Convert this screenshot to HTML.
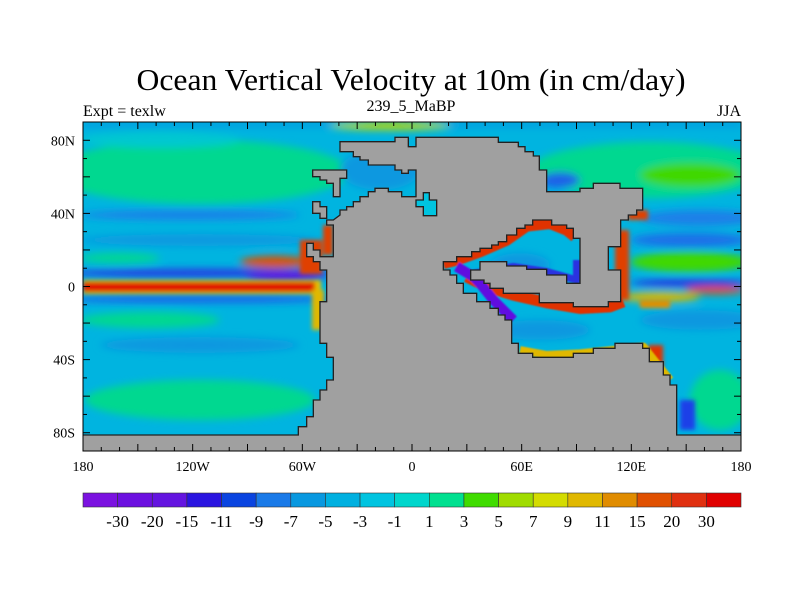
<!DOCTYPE html>
<html><head><meta charset="utf-8"><style>
body{margin:0;background:#fff;width:800px;height:600px;overflow:hidden}
text{font-family:"Liberation Serif",serif;fill:#000}
</style></head><body>
<svg width="800" height="600" viewBox="0 0 800 600">
<defs>
<clipPath id="mc"><rect x="83" y="122" width="658" height="329"/></clipPath>
<filter id="b4" x="-20%" y="-50%" width="140%" height="200%"><feGaussianBlur stdDeviation="4"/></filter>
<filter id="b2" x="-20%" y="-50%" width="140%" height="200%"><feGaussianBlur stdDeviation="2"/></filter>
</defs>
<text x="411" y="90" font-size="31" text-anchor="middle" textLength="549" lengthAdjust="spacingAndGlyphs">Ocean Vertical Velocity at 10m (in cm/day)</text>
<text x="83" y="116" font-size="16">Expt = texlw</text>
<text x="411" y="111" font-size="16" text-anchor="middle">239_5_MaBP</text>
<text x="741" y="116" font-size="16" text-anchor="end">JJA</text>

<g clip-path="url(#mc)">
<rect x="83" y="122" width="658" height="329" fill="#00b4e0"/>
<g filter="url(#b4)">
<rect x="83" y="122" width="658" height="5" fill="#0898e0"/>
<ellipse cx="390" cy="126" rx="60" ry="4" fill="#c0d800"/>
<ellipse cx="200" cy="172" rx="150" ry="32" fill="#00d890"/>
<ellipse cx="160" cy="140" rx="80" ry="8" fill="#00c8d0"/>
<ellipse cx="190" cy="215" rx="110" ry="5" fill="#1a80e8"/>
<ellipse cx="200" cy="240" rx="120" ry="6" fill="#0898e0"/>
<ellipse cx="120" cy="258" rx="40" ry="5" fill="#00d890"/>
<ellipse cx="200" cy="273" rx="140" ry="4" fill="#2a30e0"/>
<ellipse cx="285" cy="276" rx="40" ry="5" fill="#6010e0"/>
<ellipse cx="275" cy="262" rx="35" ry="6" fill="#e05000"/>
<ellipse cx="200" cy="299" rx="140" ry="4" fill="#1a60e8"/>
<ellipse cx="150" cy="320" rx="70" ry="8" fill="#00d890"/>
<ellipse cx="200" cy="400" rx="115" ry="20" fill="#00d890"/>
<ellipse cx="200" cy="345" rx="100" ry="8" fill="#0898e0"/>
<ellipse cx="650" cy="170" rx="120" ry="28" fill="#00d890"/>
<ellipse cx="690" cy="175" rx="50" ry="12" fill="#40d800"/>
<ellipse cx="560" cy="180" rx="20" ry="8" fill="#1a60e8"/>
<ellipse cx="700" cy="218" rx="60" ry="8" fill="#1a80e8"/>
<ellipse cx="690" cy="240" rx="60" ry="7" fill="#1a70e8"/>
<ellipse cx="690" cy="262" rx="60" ry="10" fill="#40d800"/>
<ellipse cx="690" cy="283" rx="60" ry="4" fill="#2a30e0"/>
<ellipse cx="715" cy="290" rx="30" ry="4" fill="#e05000"/>
<ellipse cx="660" cy="297" rx="40" ry="5" fill="#e0b800"/>
<ellipse cx="700" cy="320" rx="60" ry="10" fill="#0898e0"/>
<ellipse cx="720" cy="400" rx="30" ry="30" fill="#00d890"/>
<ellipse cx="380" cy="170" rx="40" ry="20" fill="#0898e0"/>
<ellipse cx="520" cy="265" rx="30" ry="12" fill="#0898e0"/>
<ellipse cx="540" cy="330" rx="50" ry="10" fill="#0898e0"/>
</g>
<g filter="url(#b2)">
<rect x="83" y="280" width="238" height="14" fill="#e8c000"/>
<rect x="83" y="282" width="232" height="10" fill="#e01800"/>
<rect x="300" y="240" width="22" height="34" fill="#e04000"/>
<rect x="323" y="225" width="10" height="30" fill="#e04000"/>
<rect x="312" y="290" width="12" height="40" fill="#e0b800"/>
<rect x="615" y="230" width="14" height="70" fill="#e04000"/>
<rect x="628" y="210" width="20" height="10" fill="#e04000"/>
<rect x="640" y="300" width="30" height="8" fill="#e09000"/>
<rect x="648" y="345" width="15" height="25" fill="#e03000"/>
<rect x="680" y="400" width="15" height="30" fill="#1a40e8"/>
</g>
<g transform="translate(280,120) scale(0.33333)" fill="none" stroke-linejoin="round" filter="url(#b2)">
<polyline points="490,430 530,420 600,395 680,360 740,318 810,310 860,330 885,350" stroke="#e03000" stroke-width="34"/>
<polyline points="560,470 620,500 700,525 800,548 900,565 990,560 1030,545" stroke="#e03000" stroke-width="34"/>
<polyline points="530,440 580,470 600,490 640,540 700,600" stroke="#6010e0" stroke-width="30"/>
<polyline points="580,460 700,440 800,455 890,480 890,420" stroke="#2a30e0" stroke-width="22"/>
<polyline points="720,690 800,705 900,700 1000,690 1090,680 1130,730 1170,780" stroke="#e0b800" stroke-width="24"/>
</g>
<g transform="translate(280,120) scale(0.33333)" stroke="#222" stroke-width="4" fill="#a0a0a0" stroke-linejoin="miter">
<polygon points="180,65 345,65 345,52 385,52 385,80 408,80 408,52 655,52 655,67 715,67 715,80 735,80 735,95 760,95 760,108 778,108 778,150 800,150 800,215 900,215 900,205 940,205 940,190 1020,190 1020,205 1088,205 1088,270 1070,270 1070,285 1045,285 1045,300 1022,300 1022,380 985,380 985,450 1022,450 1022,545 985,545 985,560 880,560 880,548 778,548 778,520 670,520 670,505 630,505 630,490 612,490 612,480 572,480 572,450 600,450 600,425 680,425 680,438 740,438 740,448 800,448 800,465 860,465 860,490 900,490 900,355 880,355 880,325 860,325 860,315 815,315 815,300 758,300 758,315 735,315 735,325 710,325 710,345 680,345 680,365 655,365 655,375 635,375 635,385 600,385 600,395 575,395 575,410 530,410 530,425 490,425 490,450 510,450 510,465 530,465 530,490 550,490 550,520 590,520 590,545 630,545 630,565 655,565 655,585 675,585 675,600 695,600 695,670 715,670 715,700 758,700 758,712 880,712 880,700 940,700 940,685 1005,685 1005,670 1088,670 1088,685 1108,685 1108,725 1150,725 1150,765 1170,765 1170,795 1190,795 1190,945 1400,945 1400,1000 -700,1000 -700,945 55,945 55,920 80,920 80,890 100,890 100,840 120,840 120,810 140,810 140,780 160,780 160,712 140,712 140,670 120,670 120,545 140,545 140,450 120,450 120,425 100,425 100,410 80,410 80,370 100,370 100,390 120,390 120,410 160,410 160,315 140,315 140,300 160,300 180,285 180,270 200,270 200,260 220,260 220,245 240,245 240,230 265,230 265,215 285,215 285,205 325,205 325,215 365,215 365,230 408,230 408,150 385,150 385,160 365,160 365,150 345,150 345,135 265,135 265,120 240,120 240,110 220,110 220,95 180,95"/>
<polygon points="98,150 200,150 200,175 180,175 180,230 160,230 160,190 140,190 140,180 120,180 120,170 98,170"/>
<polygon points="98,245 120,245 120,260 140,260 140,295 120,295 120,280 98,280"/>
<polygon points="430,218 448,218 448,240 470,240 470,287 430,287 430,260 408,260 408,240 430,240" fill="#00c4e0"/>
</g>
</g>
<rect x="83" y="122" width="658" height="329" fill="none" stroke="#000" stroke-width="1"/>
<g id="ticks"></g>
<g id="cbar"></g>
</svg>
<script>
const lonLabels=['180','120W','60W','0','60E','120E','180'];
const lonValues=[-180,-120,-60,0,60,120,180];
const latLabels=['80N','40N','0','40S','80S'];
const latValues=[80,40,0,-40,-80];
const levels=['-30','-20','-15','-11','-9','-7','-5','-3','-1','1','3','5','7','9','11','15','20','30'];
const colors=['#7b12e0','#6c10e0','#6414e0','#2a14e0','#0a44e0','#1a7ae8','#0898e0','#00b0e0','#00c4e0','#00d6cc','#00e090','#40dc00','#a0dc00','#d4dc00','#e0b800','#e08c00','#e05000','#e03010','#e00000'];
const NS='http://www.w3.org/2000/svg';
const X=lon=>83+(lon+180)/360*658;
const Y=lat=>286.5-lat*329/180;
const tg=document.getElementById('ticks');
function ln(x1,y1,x2,y2){const l=document.createElementNS(NS,'line');l.setAttribute('x1',x1);l.setAttribute('y1',y1);l.setAttribute('x2',x2);l.setAttribute('y2',y2);l.setAttribute('stroke','#000');tg.appendChild(l);}
for(let lon=-180;lon<=180;lon+=10){const L=lon%30===0?7:4;const x=X(lon);ln(x,451,x,451-L);ln(x,122,x,122+L);}
for(let lat=-90;lat<=90;lat+=10){const L=lat%20===0?7:4;const y=Y(lat);ln(83,y,83+L,y);ln(741,y,741-L,y);}
lonValues.forEach((v,i)=>{const t=document.createElementNS(NS,'text');t.setAttribute('x',X(v));t.setAttribute('y',471);t.setAttribute('font-size','14');t.setAttribute('text-anchor','middle');t.textContent=lonLabels[i];


tg.appendChild(t);});
latValues.forEach((v,i)=>{const t=document.createElementNS(NS,'text');t.setAttribute('x',75);t.setAttribute('y',Y(v)+5);t.setAttribute('font-size','14');t.setAttribute('text-anchor','end');t.textContent=latLabels[i];


tg.appendChild(t);});
const cb=document.getElementById('cbar');const w=658/colors.length;
colors.forEach((c,i)=>{const r=document.createElementNS(NS,'rect');r.setAttribute('x',83+i*w);r.setAttribute('y',493);r.setAttribute('width',w);r.setAttribute('height',14);r.setAttribute('fill',c);r.setAttribute('stroke','#333');r.setAttribute('stroke-width','0.6');


cb.appendChild(r);});
levels.forEach((s,i)=>{const t=document.createElementNS(NS,'text');t.setAttribute('x',83+(i+1)*w);t.setAttribute('y',527);t.setAttribute('font-size','17');t.setAttribute('text-anchor','middle');t.textContent=s;


cb.appendChild(t);});
</script>
</body></html>
